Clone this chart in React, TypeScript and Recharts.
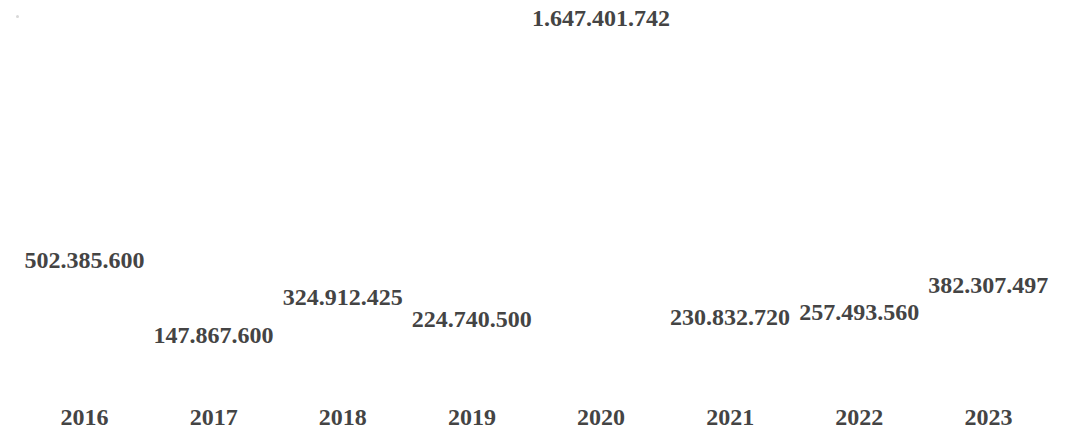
import { BarChart, Bar, XAxis, YAxis, LabelList } from "recharts";

// values, one per year
const YEARS = ["2016", "2017", "2018", "2019", "2020", "2021", "2022", "2023"];
const AMOUNTS = [502385600, 147867600, 324912425, 224740500, 1647401742, 230832720, 257493560, 382307497];

const TEXT = "#444444";
const FONT = '"Liberation Serif", "Times New Roman", serif';
const MAX = Math.max(...AMOUNTS);

// dotted thousands, like the source ("1.647.401.742")
function formatAmount(value: unknown): string {
  const n = Number(value);
  if (!Number.isFinite(n)) return "";
  return Math.round(n).toString().replace(/\B(?=(\d{3})+(?!\d))/g, ".");
}

const data = YEARS.map((year, i) => ({ year, amount: AMOUNTS[i] }));

export default function App() {
  // pulled up over the body margin so the top label has room inside the svg
  return (
    <div style={{ position: "relative", marginTop: -8, width: 1065, height: 432, fontFamily: FONT }}>
      {/* the faint legend dot in the source's top-left corner */}
      <span
        style={{
          position: "absolute",
          left: 8,
          top: 15,
          width: 3,
          height: 3,
          borderRadius: "50%",
          background: "#d8d8d8",
        }}
      />
      <BarChart width={1065} height={432} data={data} margin={{ top: 31, right: 20, left: 12, bottom: 0 }}>
        <XAxis
          dataKey="year"
          axisLine={false}
          tickLine={false}
          height={53}
          tickMargin={23}
          tick={{ fill: TEXT, fontSize: 24, fontWeight: 700, fontFamily: FONT }}
        />
        {/* no nice rounding: the tallest bar reaches the top of the plot */}
        <YAxis hide domain={[0, MAX]} allowDataOverflow />
        <Bar dataKey="amount" fill="#ffffff" isAnimationActive={false}>
          <LabelList
            dataKey="amount"
            position="top"
            formatter={formatAmount}
            fill={TEXT}
            style={{ fontSize: 24, fontWeight: 700, fontFamily: FONT }}
          />
        </Bar>
      </BarChart>
    </div>
  );
}
